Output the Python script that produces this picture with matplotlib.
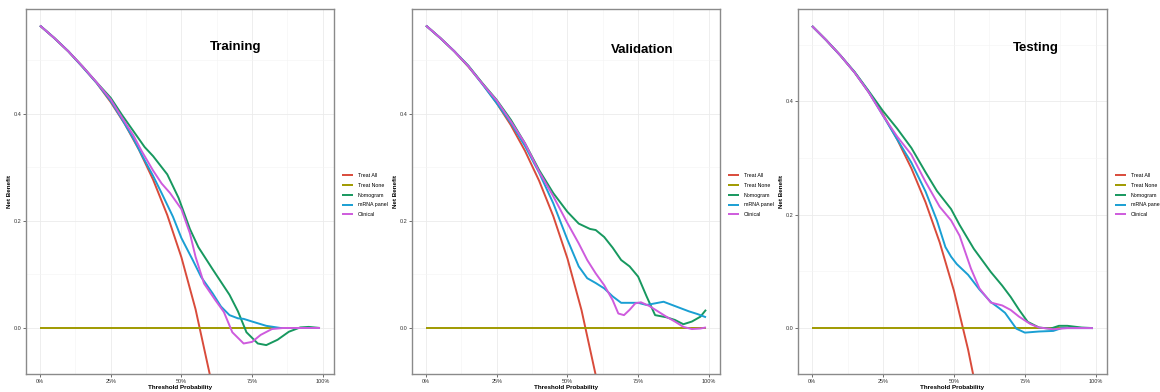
import numpy as np
import matplotlib
matplotlib.use("Agg")
import matplotlib.pyplot as plt
from matplotlib.ticker import MultipleLocator, FuncFormatter

plt.rcParams['font.family'] = ['Liberation Sans', 'DejaVu Sans']

# %% data (threshold, net benefit)
series_names = ["Treat All", "Treat None", "Nomogram", "mRNA panel", "Clinical"]
series_colors = ["#D94B3B", "#A09A00", "#17985F", "#1A9FD3", "#CE5BDD"]

# Training
tr_all_x = [0, 0.05, 0.10, 0.15, 0.20, 0.25, 0.30, 0.35, 0.40, 0.45, 0.50, 0.55, 0.60, 0.62]
tr_all_y = [0.565, 0.542, 0.517, 0.488, 0.458, 0.422, 0.381, 0.333, 0.277, 0.211, 0.132, 0.035, -0.086, -0.143]
tr_nomo_x = [0, 0.05, 0.10, 0.15, 0.20, 0.25, 0.29, 0.33, 0.37, 0.40, 0.45, 0.49, 0.53, 0.56, 0.61,
             0.67, 0.70, 0.73, 0.77, 0.80, 0.84, 0.88, 0.92, 0.95, 0.99]
tr_nomo_y = [0.565, 0.542, 0.517, 0.489, 0.459, 0.430, 0.398, 0.368, 0.338, 0.321, 0.287, 0.243, 0.185,
             0.151, 0.110, 0.062, 0.031, -0.008, -0.029, -0.032, -0.022, -0.007, 0.001, 0.002, 0.0]
tr_mrna_x = [0, 0.05, 0.10, 0.15, 0.20, 0.25, 0.29, 0.33, 0.36, 0.40, 0.43, 0.47, 0.50, 0.54, 0.57,
             0.61, 0.64, 0.67, 0.70, 0.72, 0.75, 0.80, 0.85, 0.90, 0.99]
tr_mrna_y = [0.565, 0.542, 0.517, 0.488, 0.458, 0.424, 0.390, 0.354, 0.323, 0.284, 0.252, 0.208, 0.168,
             0.127, 0.095, 0.065, 0.040, 0.024, 0.018, 0.017, 0.012, 0.004, 0.0, 0.0, 0.0]
tr_clin_x = [0, 0.05, 0.10, 0.15, 0.20, 0.25, 0.29, 0.33, 0.36, 0.40, 0.43, 0.46, 0.50, 0.53, 0.55,
             0.58, 0.62, 0.65, 0.68, 0.72, 0.75, 0.78, 0.82, 0.86, 0.99]
tr_clin_y = [0.565, 0.542, 0.517, 0.489, 0.459, 0.427, 0.393, 0.360, 0.330, 0.294, 0.270, 0.252, 0.222,
             0.177, 0.133, 0.083, 0.052, 0.030, -0.008, -0.029, -0.026, -0.013, -0.002, 0.0, 0.0]

# Validation
va_all_x = tr_all_x
va_all_y = [0.565, 0.542, 0.517, 0.488, 0.456, 0.420, 0.379, 0.331, 0.275, 0.209, 0.130, 0.033, -0.088, -0.145]
va_nomo_x = [0, 0.05, 0.10, 0.15, 0.20, 0.25, 0.30, 0.35, 0.40, 0.45, 0.50, 0.54, 0.58, 0.60, 0.63,
             0.66, 0.69, 0.72, 0.75, 0.78, 0.81, 0.85, 0.88, 0.91, 0.94, 0.97, 0.99]
va_nomo_y = [0.565, 0.542, 0.517, 0.490, 0.457, 0.426, 0.389, 0.345, 0.295, 0.252, 0.217, 0.195, 0.185,
             0.183, 0.170, 0.150, 0.127, 0.115, 0.096, 0.059, 0.024, 0.020, 0.015, 0.007, 0.012,
             0.021, 0.034]
va_mrna_x = [0, 0.05, 0.10, 0.15, 0.20, 0.25, 0.30, 0.35, 0.40, 0.45, 0.50, 0.54, 0.57, 0.60, 0.63,
             0.66, 0.69, 0.72, 0.75, 0.78, 0.81, 0.84, 0.87, 0.90, 0.93, 0.96, 0.99]
va_mrna_y = [0.565, 0.542, 0.517, 0.489, 0.455, 0.420, 0.383, 0.340, 0.290, 0.233, 0.165, 0.115, 0.093,
             0.084, 0.074, 0.059, 0.047, 0.047, 0.047, 0.043, 0.046, 0.049, 0.043, 0.037, 0.031,
             0.026, 0.020]
va_clin_x = [0, 0.05, 0.10, 0.15, 0.20, 0.25, 0.30, 0.35, 0.40, 0.45, 0.50, 0.54, 0.57, 0.60, 0.63,
             0.66, 0.68, 0.70, 0.72, 0.74, 0.76, 0.79, 0.82, 0.85, 0.88, 0.91, 0.94, 0.97, 0.99]
va_clin_y = [0.565, 0.542, 0.517, 0.489, 0.456, 0.425, 0.386, 0.345, 0.292, 0.246, 0.196, 0.158, 0.127,
             0.102, 0.080, 0.052, 0.027, 0.024, 0.034, 0.046, 0.048, 0.041, 0.031, 0.021, 0.012,
             0.002, -0.002, -0.001, 0.001]

# Testing
te_all_x = [0, 0.05, 0.10, 0.15, 0.20, 0.25, 0.30, 0.35, 0.40, 0.45, 0.50, 0.55, 0.58]
te_all_y = [0.533, 0.508, 0.481, 0.451, 0.416, 0.377, 0.333, 0.282, 0.222, 0.151, 0.066, -0.038, -0.112]
te_nomo_x = [0, 0.05, 0.10, 0.15, 0.20, 0.25, 0.30, 0.35, 0.40, 0.44, 0.49, 0.52, 0.57, 0.63, 0.67,
             0.70, 0.73, 0.76, 0.80, 0.84, 0.87, 0.90, 0.95, 0.99]
te_nomo_y = [0.533, 0.508, 0.481, 0.452, 0.418, 0.383, 0.352, 0.318, 0.275, 0.242, 0.210, 0.182, 0.140,
             0.099, 0.075, 0.055, 0.032, 0.011, 0.001, -0.001, 0.004, 0.004, 0.001, 0.0]
te_mrna_x = [0, 0.05, 0.10, 0.15, 0.20, 0.25, 0.30, 0.35, 0.40, 0.44, 0.47, 0.49, 0.51, 0.55, 0.59,
             0.63, 0.66, 0.68, 0.72, 0.75, 0.80, 0.85, 0.88, 0.92, 0.99]
te_mrna_y = [0.533, 0.508, 0.481, 0.451, 0.416, 0.375, 0.333, 0.292, 0.241, 0.190, 0.143, 0.126, 0.113,
             0.094, 0.068, 0.046, 0.035, 0.027, -0.001, -0.008, -0.006, -0.005, 0.0, 0.0, 0.0]
te_clin_x = [0, 0.05, 0.10, 0.15, 0.20, 0.25, 0.30, 0.35, 0.40, 0.45, 0.49, 0.52, 0.56, 0.59, 0.63,
             0.67, 0.70, 0.73, 0.77, 0.80, 0.85, 0.90, 0.99]
te_clin_y = [0.533, 0.508, 0.481, 0.451, 0.416, 0.375, 0.338, 0.306, 0.258, 0.214, 0.190, 0.163, 0.105,
             0.070, 0.045, 0.040, 0.032, 0.020, 0.007, 0.001, -0.002, 0.0, 0.0]

none_x = [0, 0.99]
none_y = [0, 0]

panels = [
    ("Training", [(tr_all_x, tr_all_y), (none_x, none_y), (tr_nomo_x, tr_nomo_y),
                  (tr_mrna_x, tr_mrna_y), (tr_clin_x, tr_clin_y)],
     (-0.086, 0.596), (0.69, 0.525), [26, 334]),
    ("Validation", [(va_all_x, va_all_y), (none_x, none_y), (va_nomo_x, va_nomo_y),
                    (va_mrna_x, va_mrna_y), (va_clin_x, va_clin_y)],
     (-0.086, 0.596), (0.765, 0.52), [412, 720]),
    ("Testing", [(te_all_x, te_all_y), (none_x, none_y), (te_nomo_x, te_nomo_y),
                 (te_mrna_x, te_mrna_y), (te_clin_x, te_clin_y)],
     (-0.081, 0.563), (0.79, 0.495), [798, 1107]),
]

# %%
W, H = 1160, 392
fig = plt.figure(figsize=(W / 100, H / 100), dpi=100)

for title, curves, ylim, tpos, (px0, px1) in panels:
    ax = fig.add_axes([px0 / W, (H - 374) / H, (px1 - px0) / W, (374 - 9) / H])
    for (x, y), name, col in zip(curves, series_names, series_colors):
        ax.plot(x, y, color=col, lw=1.4, label=name, solid_capstyle='butt', solid_joinstyle='round')
    ax.set_xlim(-0.0495, 1.0395)
    ax.set_ylim(*ylim)
    ax.xaxis.set_major_locator(MultipleLocator(0.25))
    ax.xaxis.set_minor_locator(MultipleLocator(0.125))
    ax.yaxis.set_major_locator(MultipleLocator(0.2))
    ax.yaxis.set_minor_locator(MultipleLocator(0.1))
    ax.xaxis.set_major_formatter(FuncFormatter(lambda v, p: f"{int(round(v * 100))}%"))
    ax.yaxis.set_major_formatter(FuncFormatter(lambda v, p: f"{v:.1f}"))
    ax.grid(which='major', color='#EBEBEB', lw=0.6)
    ax.grid(which='minor', color='#F4F4F4', lw=0.4)
    ax.set_axisbelow(True)
    ax.tick_params(which='major', labelsize=4, length=2, width=0.5, color='#333333',
                   labelcolor='#333333', pad=1.5)
    ax.tick_params(which='minor', length=0)
    for s in ax.spines.values():
        s.set_color('#8A8A8A')
        s.set_linewidth(1.0)
    ax.set_xlabel("Threshold Probability", fontsize=4.5, fontweight='bold', labelpad=0.5)
    ax.set_ylabel("Net Benefit", fontsize=4.5, fontweight='bold', labelpad=1)
    ax.text(tpos[0], tpos[1], title, fontsize=9.5, fontweight='bold', ha='center', va='center')
    ax.legend(loc='center left', bbox_to_anchor=(1.01, 0.49), frameon=False, fontsize=3.8,
              handlelength=2.2, labelspacing=0.9, handletextpad=0.8)

fig.savefig("out.png", dpi=100)
